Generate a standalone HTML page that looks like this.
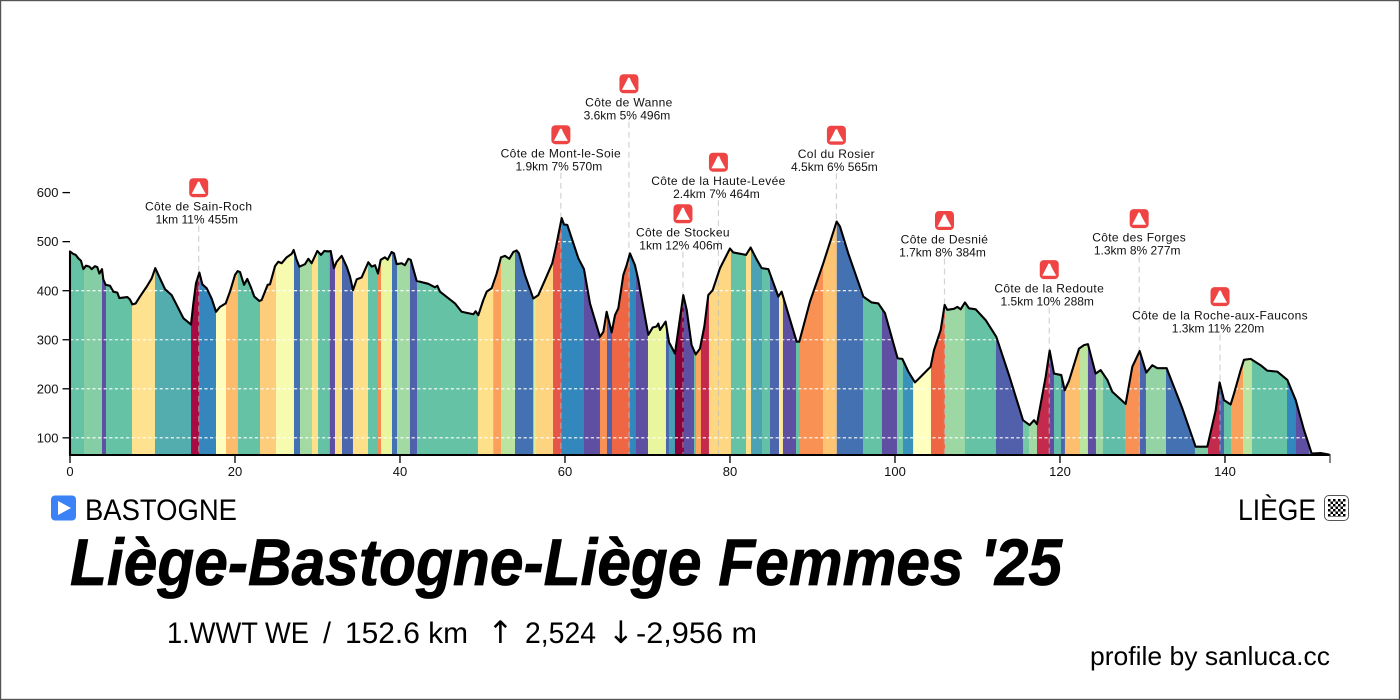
<!DOCTYPE html>
<html lang="en">
<head>
<meta charset="utf-8">
<title>Liège-Bastogne-Liège Femmes '25 profile</title>
<style>
html,body{margin:0;padding:0;background:#fff;}
svg{display:block;font-family:"Liberation Sans",Arial,sans-serif;}
.tick{font-size:13px;fill:#111;}
.climb{font-size:12px;fill:#111;text-anchor:middle;}
.climb-title{letter-spacing:.35px;}
</style>
</head>
<body>
<svg id="chart" xmlns="http://www.w3.org/2000/svg" width="1400" height="700" viewBox="0 0 1400 700">
  <defs>
    <clipPath id="profile-clip"><path id="clip-path" d=""></path></clipPath>
    <pattern id="checker" width="5" height="5" patternUnits="userSpaceOnUse" x="1328" y="499">
      <rect width="5" height="5" fill="#fff"></rect>
      <rect width="2.5" height="2.5" fill="#000"></rect>
      <rect x="2.5" y="2.5" width="2.5" height="2.5" fill="#000"></rect>
    </pattern>
  </defs>
  <rect x="0" y="0" width="1400" height="700" fill="#fff"></rect>
  <g id="segments" clip-path="url(#profile-clip)"></g>
  <g id="grid"></g>
  <g id="leaders"></g>
  <path id="outline" fill="none" stroke="#000" stroke-width="2.1" stroke-linejoin="round" d=""></path>
  <g id="x-axis"></g>
  <g id="y-axis"></g>
  <g id="climbs"></g>

  <g>
    <rect x="51" y="495.5" width="25" height="25" rx="4" fill="#3b82f6"></rect>
    <path d="M58 501 L71 508 L58 515 Z" fill="#fff"></path>
  </g>
  <text x="85" y="520" font-size="30" fill="#000" textLength="152" lengthAdjust="spacingAndGlyphs">BASTOGNE</text>
  <text x="1238" y="520" font-size="30" fill="#000" textLength="78" lengthAdjust="spacingAndGlyphs">LIÈGE</text>
  <g>
    <rect x="1324.5" y="495.5" width="24" height="25" rx="4.5" fill="#fff" stroke="#555" stroke-width="1"></rect>
    <rect x="1328" y="499" width="17.5" height="18" fill="url(#checker)"></rect>
  </g>
  <text x="70" y="585" font-size="66" font-weight="700" font-style="italic" fill="#000" stroke="#000" stroke-width=".8" textLength="992" lengthAdjust="spacingAndGlyphs">Liège-Bastogne-Liège Femmes '25</text>

  <g font-size="30" fill="#000">
    <text x="167" y="643" textLength="142" lengthAdjust="spacingAndGlyphs">1.WWT WE</text>
    <text x="323" y="643" textLength="8" lengthAdjust="spacingAndGlyphs">/</text>
    <text x="345" y="643" textLength="123" lengthAdjust="spacingAndGlyphs">152.6 km</text>
    <text x="500.5" y="643" font-size="31" text-anchor="middle" font-family="'DejaVu Sans',sans-serif">↑</text>
    <text x="525" y="643" textLength="71" lengthAdjust="spacingAndGlyphs">2,524</text>
    <text x="621" y="643" font-size="31" text-anchor="middle" font-family="'DejaVu Sans',sans-serif">↓</text>
    <text x="636" y="643" textLength="121" lengthAdjust="spacingAndGlyphs">-2,956 m</text>
  </g>
  <text x="1090" y="665" font-size="26" fill="#000" textLength="240" lengthAdjust="spacingAndGlyphs">profile by sanluca.cc</text>
  <rect x="0.5" y="0.5" width="1399" height="699" fill="none" stroke="#555" stroke-width="1.4"></rect>
</svg>

<script>
const profileKm = [0,.4,.69,1.01,1.33,1.62,1.94,2.34,2.63,3.03,3.31,3.56,3.88,4.04,4.32,4.85,5.25,5.74,5.98,6.46,6.95,7.27,7.56,7.96,8.48,9.29,9.9,10.34,10.91,11.52,12.32,12.93,13.74,14.67,14.95,15.27,15.68,16.04,16.57,17.17,17.7,18.18,18.87,19.39,20,20.32,20.61,21.09,21.49,21.9,22.34,22.95,23.23,23.96,24.24,24.85,25.25,25.66,26.26,26.87,27.11,27.47,27.8,28.48,28.89,29.29,29.98,30.42,30.83,31.31,31.6,32,32.32,32.93,33.54,33.94,34.3,34.75,35.35,36.16,36.57,36.97,37.33,37.66,38.18,38.5,38.99,39.27,39.6,40.2,40.6,41.01,41.3,42.02,43.43,44.24,44.53,44.85,46.67,47.47,48.89,49.17,49.49,50.1,50.51,51.11,51.72,52.24,52.73,53.25,53.74,54.14,54.42,55.15,56.16,56.77,57.58,58.46,58.91,59.6,59.88,60.28,61.01,61.62,62.3,63.03,64.24,64.65,65.05,65.66,66.06,66.46,67.07,67.47,67.88,68.48,68.89,70.1,70.63,71.11,71.31,71.52,72.2,72.61,73.33,74.34,74.75,75.35,75.84,76.36,76.89,77.37,77.9,78.79,80,80.4,81.94,82.5,83.23,83.84,84.65,85.86,86.26,88.08,88.4,89.7,91.31,92.93,93.33,94.34,96.16,97.17,97.98,98.79,100.32,100.89,101.62,102.42,102.91,104.32,104.73,105.54,106.02,106.34,107.15,107.56,107.96,108.48,108.97,109.78,110.99,112.28,113.82,115.52,116.32,116.85,117.21,118.26,118.75,119.27,120.16,120.57,121.09,122.3,122.91,123.39,124.32,124.93,125.74,126.34,127.96,128.77,129.66,130.46,131.19,131.8,132.93,134.83,136.44,137.86,138.87,139.35,139.88,140.69,141.09,141.9,142.3,143.11,144.32,145.13,146.34,147.56,148.57,149.58,150.51,151.6,152.6];
const profileElevation = [480,475,473,466,461,444,451,449,444,450,448,435,444,423,412,410,398,396,385,386,387,382,372,374,388,408,425,446,425,403,391,371,344,331,374,415,437,413,405,384,357,367,374,398,432,440,438,412,424,408,388,379,381,412,413,450,459,456,468,475,483,463,449,454,465,456,481,473,481,480,481,446,459,471,449,429,401,423,427,458,449,452,435,463,468,463,479,476,454,456,452,465,463,420,414,407,410,398,374,357,352,358,350,381,398,405,435,468,471,465,479,482,476,432,384,391,422,456,490,548,535,534,497,466,444,374,306,316,357,315,350,364,432,452,476,452,422,310,325,327,333,320,337,295,272,391,361,289,270,282,327,391,401,446,486,478,473,488,464,446,444,388,398,296,296,378,456,541,531,476,388,376,374,354,262,261,235,213,221,245,279,320,371,361,363,367,362,376,364,362,340,306,228,136,126,136,128,224,278,231,228,197,216,282,289,291,231,238,218,194,169,245,277,233,248,242,242,160,82,82,156,213,177,168,190,238,259,261,248,237,235,218,177,116,68,69,66];

const segmentEndKm = [1.7,3.88,4.36,7.52,10.3,14.67,15.64,17.7,18.91,20.36,23.03,24.97,27.15,27.88,29.33,30.06,31.5,32.12,32.97,34.3,36.12,37.33,37.7,39.03,39.64,41.21,42.06,49.45,51.31,52.24,53.94,56.16,56.48,58.55,59.6,62.3,64.24,65.09,65.7,67.88,68.6,70.06,72.24,72.6,73.33,74.42,75.64,75.88,76.48,77.45,80.12,81.94,82.55,83.88,84.85,85.94,86.42,88,88.48,91.27,92.95,96.12,98.42,100.24,100.97,102.2,104.36,106.06,108.48,112.24,115.52,116.24,117.21,118.79,119.27,120.12,120.6,122.42,123.39,124.36,125.21,127.88,129.7,130.42,132.85,136.36,137.94,139.39,139.88,140.73,142.18,143.27,147.52,148.6,150.18,152.6];
const segmentGrade = [-1.2,-.8,-7,-1.2,2.5,-2.4,10.5,-4.6,1.3,3.8,-1.2,3.2,.9,-5.5,-.4,2.6,-1.2,-7,2.6,-6,2.6,-1.2,5.2,.5,-5.5,-.4,-6.2,-1.2,2.6,4.6,-.1,-5.5,.2,3,7,-4.5,-7,5,-6.2,6.3,-4.5,-7,.5,-6,-3.2,12,-7,-1.2,4.4,9,2.9,-1.2,2.6,-3,-1.3,-6,2.2,-7,-1.2,5,3.5,-5.5,-1.2,-7,-1,-4,1.2,6.3,-.5,-1.2,-6.3,-1,-.4,9,-7,-1.5,-6,3.7,-.1,-7,-.5,-1.5,5,-6,-.6,-5.5,-.9,9,-6,-1.2,4.6,-.1,-1.2,-4.5,-7,-3];

const xTickValues = [0,20,40,60,80,100,120,140];
const yTickValues = [100,200,300,400,500,600];

const climbNames = ["Côte de Sain-Roch","Côte de Mont-le-Soie","Côte de Wanne","Côte de Stockeu","Côte de la Haute-Levée","Col du Rosier","Côte de Desnié","Côte de la Redoute","Côte des Forges","Côte de la Roche-aux-Faucons"];
const climbStats = ["1km 11% 455m","1.9km 7% 570m","3.6km 5% 496m","1km 12% 406m","2.4km 7% 464m","4.5km 6% 565m","1.7km 8% 384m","1.5km 10% 288m","1.3km 8% 277m","1.3km 11% 220m"];
const climbKm = [15.6,59.5,67.75,74.3,78.6,92.9,106,118.7,129.6,139.4];
const climbLabelElevation = [610,718,822,557,662,717,543,443,547,388];

/* axis functions */
const X0 = 70, X1 = 1330, Y0 = 455, Y1 = 192.6;
const xMax = 152.73, eMin = 65, eMax = 600;
function xScale(km){ return X0 + (km / xMax) * (X1 - X0); }
function yScale(e){ return Y0 - ((e - eMin) / (eMax - eMin)) * (Y0 - Y1); }

/* non-linear Spectral colour scale by gradient % */
const gradeDomain = [-7,-4.5,-1.2,-.3,.4,1.2,2.6,4.2,6,8,11,13];
const gradeColors = ["#5e4fa2","#3288bd","#66c2a5","#abdda4","#e6f598","#ffffbf","#fee08b","#fdae61","#f46d43","#d53e4f","#9e0142","#7a0036"];
function hex(c){ return [1,3,5].map(function(i){ return parseInt(c.substr(i,2),16); }); }
function gradeColor(g){
  if (g <= gradeDomain[0]) return gradeColors[0];
  for (let i = 1; i < gradeDomain.length; i++) {
    if (g <= gradeDomain[i]) {
      const t = (g - gradeDomain[i-1]) / (gradeDomain[i] - gradeDomain[i-1]);
      const a = hex(gradeColors[i-1]), b = hex(gradeColors[i]);
      return "rgb(" + a.map(function(v,k){ return Math.round(v + (b[k]-v)*t); }).join(",") + ")";
    }
  }
  return gradeColors[gradeColors.length-1];
}

const NS = "http://www.w3.org/2000/svg";
function make(tag, attrs, parent){
  const el = document.createElementNS(NS, tag);
  for (const k in attrs) el.setAttribute(k, attrs[k]);
  parent.appendChild(el);
  return el;
}

/* area / line */
let pathD = "M" + xScale(profileKm[0]).toFixed(2) + " " + Y0;
profileKm.forEach(function(km,i){
  pathD += " L" + xScale(km).toFixed(2) + " " + yScale(profileElevation[i]).toFixed(2);
});
pathD += " L" + xScale(profileKm[profileKm.length-1]).toFixed(2) + " " + Y0 + " Z";
document.getElementById("clip-path").setAttribute("d", pathD);
document.getElementById("outline").setAttribute("d", pathD);

/* gradient segments */
const segG = document.getElementById("segments");
segmentEndKm.forEach(function(end,i){
  const start = i === 0 ? 0 : segmentEndKm[i-1];
  const r = make("rect", {x:xScale(start), y:0, width:xScale(end)-xScale(start)+0.3, height:Y0, fill:gradeColor(segmentGrade[i])}, segG);
  
  
});

/* grid lines */
const gridG = document.getElementById("grid");
yTickValues.forEach(function(v){
  const l = make("line", {x1:X0, x2:X1, y1:yScale(v), y2:yScale(v), stroke:"#fff", "stroke-width":1.1, "stroke-dasharray":"3.2 2.4"}, gridG);
  
  
});

/* x axis */
const xG = document.getElementById("x-axis");
const xLine = make("line", {x1:X0-1, x2:X1, y1:Y0, y2:Y0, stroke:"#000", "stroke-width":2}, xG);


xTickValues.forEach(function(v){
  const t = make("line", {x1:xScale(v), x2:xScale(v), y1:Y0, y2:Y0+8, stroke:"#000", "stroke-width":1.3}, xG);
  
  
  const lab = make("text", {x:xScale(v), y:476, "text-anchor":"middle", class:"tick"}, xG);
  lab.textContent = v;
  
  
});
const endTick = make("line", {x1:X1, x2:X1, y1:Y0-1, y2:Y0+8, stroke:"#444", "stroke-width":1.3}, xG);



/* y axis */
const yG = document.getElementById("y-axis");
yTickValues.forEach(function(v){
  const t = make("line", {x1:X0-7.5, x2:X0, y1:yScale(v), y2:yScale(v), stroke:"#000", "stroke-width":1.3}, yG);
  
  
  const lab = make("text", {x:X0-11.5, y:yScale(v)+4.6, "text-anchor":"end", class:"tick"}, yG);
  lab.textContent = v;
  
  
});

/* climbs */
const leadG = document.getElementById("leaders");
const climbG = document.getElementById("climbs");
climbNames.forEach(function(name,i){
  const cx = xScale(climbKm[i]);
  const iy = yScale(climbLabelElevation[i]);
  const lead = make("line", {x1:cx, x2:cx, y1:iy+38, y2:Y0, stroke:"#bbb", "stroke-opacity":.65, "stroke-width":1.2, "stroke-dasharray":"6 4"}, leadG);
  
  
  const box = make("rect", {x:cx-9.5, y:iy-9.5, width:19, height:19, rx:4, fill:"#ef4444"}, climbG);
  
  
  const peak = make("path", {d:"M"+(cx-7)+" "+(iy+6.2)+" L"+(cx-2.5)+" "+(iy-2.5)+" L"+(cx-0.8)+" "+(iy-6)+" L"+(cx+0.8)+" "+(iy-6)+" L"+(cx+2.5)+" "+(iy-2)+" L"+(cx+7)+" "+(iy+6.2)+" Z", fill:"#fff"}, climbG);
  
  
  const t1 = make("text", {x:cx, y:iy+23, class:"climb climb-title"}, climbG);
  t1.textContent = name;
  
  
  const t2 = make("text", {x:cx-2, y:iy+36, class:"climb"}, climbG);
  t2.textContent = climbStats[i];
  
  
});
</script>
</body>
</html>
